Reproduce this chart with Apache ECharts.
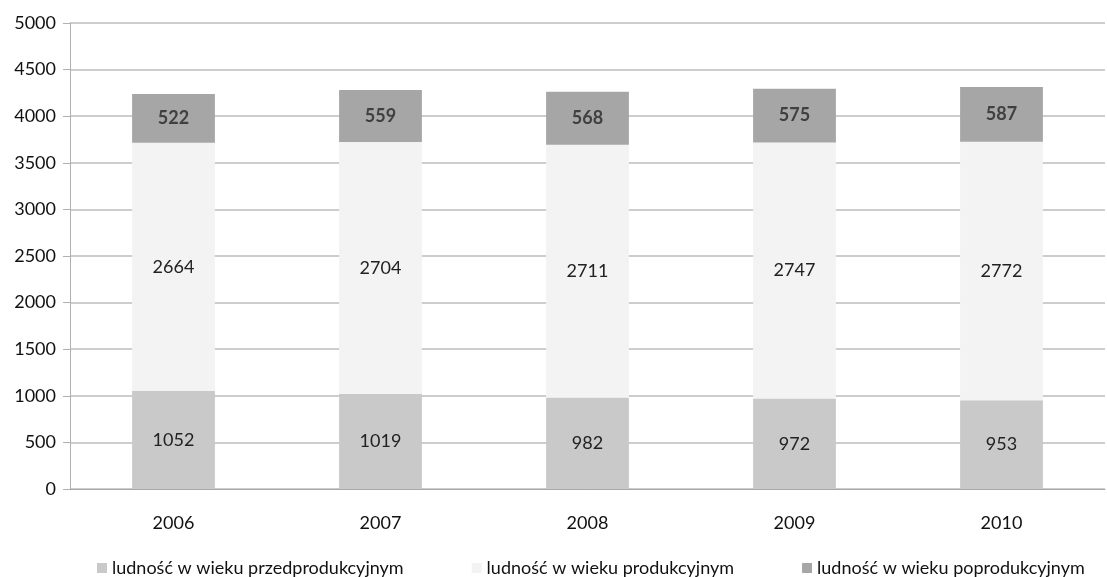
<!DOCTYPE html>
<html>
<head>
<meta charset="utf-8">
<script src="https://cdn.jsdelivr.net/npm/echarts@6/dist/echarts.min.js"></script>
<style>
  html, body { margin: 0; padding: 0; background: #fff; }
  #chart { width: 1107px; height: 577px; }
</style>
</head>
<body>
<div id="chart"></div>
<script>
// lata i grupy wieku
const years = ['2006', '2007', '2008', '2009', '2010']
const przedprodukcyjny = [1052, 1019, 982, 972, 953]
const produkcyjny = [2664, 2704, 2711, 2747, 2772]
const poprodukcyjny = [522, 559, 568, 575, 587]
const seriesNames = [
  'ludność w wieku przedprodukcyjnym',
  'ludność w wieku produkcyjnym',
  'ludność w wieku poprodukcyjnym'
]

const font = 'Lato, "Open Sans", sans-serif'
const chart = echarts.init(document.getElementById('chart'))

function bar(name, data, color, labelColor, bold) {
  return {
    name: name,
    type: 'bar',
    stack: 'total',
    barWidth: '40%',
    data: data,
    itemStyle: { color: color },
    label: {
      show: true,
      position: 'inside',
      color: labelColor,
      fontFamily: font,
      fontSize: 18,
      fontWeight: bold ? 'bold' : 'normal'
    },
    emphasis: { disabled: true }
  }
}

chart.setOption({
  animation: false,
  textStyle: { fontFamily: font },
  grid: {
    left: 70,
    right: 2,
    top: 23,
    bottom: 88
  },
  xAxis: {
    type: 'category',
    data: years,
    axisLine: { lineStyle: { color: '#a8a8a8' } },
    axisTick: { show: false },
    axisLabel: { color: '#111', fontSize: 18, margin: 25 }
  },
  yAxis: {
    type: 'value',
    min: 0,
    max: 5000,
    interval: 500,
    axisLine: { show: true, lineStyle: { color: '#b0b0b0' } },
    axisTick: { show: true, length: 7, lineStyle: { color: '#b0b0b0' } },
    axisLabel: { color: '#111', fontSize: 18, margin: 14, formatter: v => String(v) },
    splitLine: { lineStyle: { color: '#bdbdbd', width: 1.5 } }
  },
  legend: {
    top: 554,
    left: 92,
    itemWidth: 10,
    itemHeight: 10,
    itemGap: 68,
    icon: 'rect',
    textStyle: { color: '#111', fontSize: 18, fontFamily: font },
    data: seriesNames
  },
  series: [
    bar(seriesNames[0], przedprodukcyjny, '#c9c9c9', '#222', false),
    bar(seriesNames[1], produkcyjny, '#f3f3f3', '#222', false),
    bar(seriesNames[2], poprodukcyjny, '#a6a6a6', '#404040', true)
  ]
})
</script>
</body>
</html>
